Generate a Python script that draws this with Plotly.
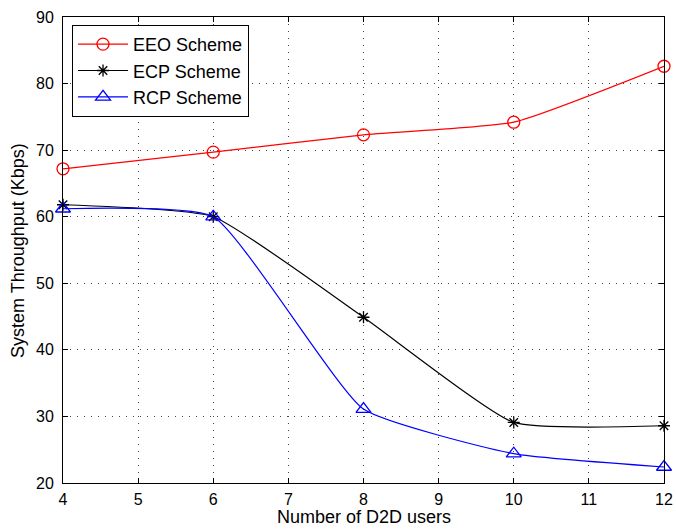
import plotly.graph_objects as go

users = [4, 6, 8, 10, 12]
eeo = [67.2, 69.7, 72.3, 74.2, 82.6]
ecp = [61.8, 60.0, 44.9, 29.1, 28.6]
rcp = [61.2, 60.0, 31.1, 24.4, 22.4]

x_title = "Number of D2D users"
y_title = "System Throughput (Kbps)"

FONT = "Liberation Sans, Arial, Helvetica, sans-serif"

fig = go.Figure()
series = [
    ("EEO Scheme", eeo, "red", "circle-open", 12),
    ("ECP Scheme", ecp, "black", "asterisk-open", 10),
    ("RCP Scheme", rcp, "blue", "triangle-up-open", 13),
]
for name, ys, col, sym, sz in series:
    fig.add_trace(go.Scatter(
        x=users, y=ys, name=name, mode="lines+markers",
        line=dict(color=col, width=1.2, shape="spline", smoothing=0.45),
        marker=dict(symbol=sym, size=sz, color=col, line=dict(color=col, width=1.3)),
        cliponaxis=False,
    ))

axis_common = dict(
    showline=True, linecolor="black", linewidth=1, mirror="allticks",
    ticks="inside", ticklen=5, tickcolor="black",
    showgrid=True, gridcolor="#444", gridwidth=1, griddash="1px,6px",
    zeroline=False, automargin=False, ticklabeloverflow="allow",
    tickfont=dict(family=FONT, size=16, color="black"),
)

fig.update_xaxes(range=[4, 12], tickvals=list(range(4, 13)),
                 ticklabelstandoff=2, **axis_common)
fig.update_yaxes(range=[20, 90], tickvals=list(range(20, 91, 10)),
                 ticklabelstandoff=5, **axis_common)

fig.add_annotation(text=x_title, xref="paper", yref="paper", x=0.5, y=-0.074,
                   xanchor="center", yanchor="middle", showarrow=False,
                   font=dict(family=FONT, size=18, color="black"))
fig.add_annotation(text=y_title, xref="paper", yref="paper", x=-0.075, y=0.5,
                   xanchor="center", yanchor="middle", showarrow=False, textangle=-90,
                   font=dict(family=FONT, size=18, color="black"))

fig.update_layout(
    width=676, height=530,
    margin=dict(l=63, r=12, t=17, b=47),
    paper_bgcolor="white", plot_bgcolor="white",
    showlegend=True,
    legend=dict(x=0.015, y=0.983, xanchor="left", yanchor="top",
                bgcolor="white", bordercolor="black", borderwidth=1,
                font=dict(family=FONT, size=18, color="black"),
                tracegroupgap=0, itemwidth=50),
    font=dict(family=FONT, color="black"),
)

fig.write_html("out.html", config={"displayModeBar": False},
               post_script="document.body.style.margin='0';document.body.style.overflow='hidden';")
